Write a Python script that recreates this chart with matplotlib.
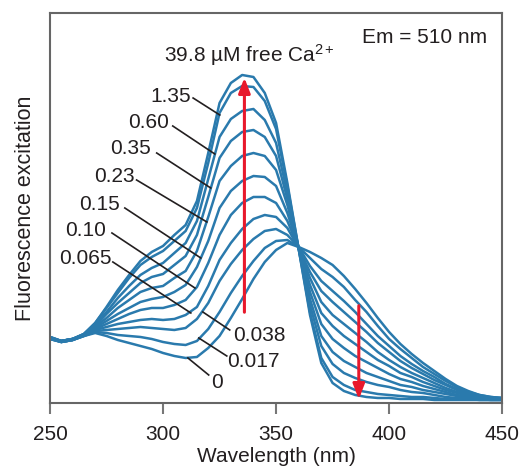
import matplotlib
matplotlib.use("Agg")
import matplotlib.pyplot as plt
import numpy as np

# wavelength grid (nm) and excitation curves (arbitrary units)
wavelength = list(range(250, 451, 5))
ca_labels = ["0", "0.017", "0.038", "0.065", "0.10", "0.15", "0.23", "0.35", "0.60", "1.35", "39.8"]

ca_0 = [64, 61, 63, 67, 70, 67, 63, 60, 57, 54, 50, 47, 45, 46, 55, 67, 85, 104, 124, 141, 153,
        160, 156, 151, 145, 138, 127, 114, 100, 85, 71, 59, 49, 40, 32, 24, 17, 12, 8, 6, 5]
ca_0017 = [64, 61, 63, 67, 71, 70, 68, 67, 66, 64, 61, 59, 58, 62, 74, 91, 110, 127, 142, 155, 162,
           163, 156, 145, 134, 126, 116, 103, 91, 77, 64, 54, 45, 36, 29, 22, 16, 11, 8, 6, 5]
ca_0038 = [64, 61, 63, 67, 72, 73, 74, 75, 76, 75, 74, 73, 75, 84, 100, 122, 139, 153, 164, 172, 174,
           168, 156, 137, 122, 112, 102, 91, 79, 67, 57, 47, 39, 32, 26, 19, 14, 10, 7, 5, 5]
ca_0065 = [65, 61, 63, 68, 73, 76, 79, 81, 83, 84, 83, 84, 88, 96, 117, 143, 160, 174, 184, 188, 186,
           175, 155, 131, 112, 101, 91, 81, 71, 60, 51, 42, 35, 29, 23, 18, 13, 9, 6, 5, 4]
ca_010 = [65, 61, 63, 68, 74, 79, 84, 89, 93, 95, 95, 98, 103, 116, 140, 168, 188, 200, 206, 206, 200,
          182, 155, 125, 101, 88, 79, 70, 61, 51, 43, 36, 30, 25, 20, 15, 11, 8, 6, 5, 4]
ca_015 = [65, 62, 64, 68, 75, 82, 89, 95, 101, 104, 106, 111, 118, 136, 162, 195, 212, 222, 227, 226, 217,
          190, 155, 118, 90, 77, 67, 59, 51, 43, 37, 30, 26, 21, 17, 13, 10, 7, 5, 4, 4]
ca_023 = [65, 62, 64, 68, 76, 85, 95, 103, 111, 115, 117, 125, 132, 152, 186, 222, 237, 247, 250, 247, 233,
          198, 155, 111, 79, 64, 55, 47, 41, 35, 29, 24, 21, 17, 14, 11, 8, 6, 5, 4, 4]
ca_035 = [65, 62, 64, 68, 77, 89, 100, 110, 120, 126, 129, 138, 147, 168, 206, 245, 262, 271, 273, 266, 247,
          204, 155, 104, 67, 51, 42, 36, 30, 26, 22, 18, 16, 13, 11, 9, 7, 5, 4, 4, 4]
ca_060 = [66, 62, 64, 69, 78, 91, 105, 117, 128, 135, 140, 150, 160, 182, 224, 266, 284, 292, 294, 283, 260,
          210, 154, 98, 57, 39, 30, 25, 21, 18, 16, 13, 11, 10, 8, 6, 5, 4, 4, 3, 3]
ca_135 = [66, 62, 64, 69, 80, 95, 110, 125, 138, 146, 152, 162, 172, 195, 240, 290, 310, 317, 316, 302, 274,
          217, 154, 91, 45, 26, 18, 13, 11, 9, 8, 7, 6, 6, 5, 4, 4, 4, 3, 3, 3]
ca_398 = [66, 62, 64, 69, 80, 96, 113, 128, 142, 151, 157, 168, 178, 202, 250, 300, 320, 328, 326, 310, 280,
          220, 154, 88, 40, 20, 12, 8, 6, 5, 5, 4, 4, 4, 3, 3, 3, 3, 3, 3, 3]

curves = [ca_0, ca_0017, ca_0038, ca_0065, ca_010, ca_015, ca_023, ca_035, ca_060, ca_135, ca_398]

# label text position and leader line (start, end), in data coords
label_pos = {
    "1.35": (303.2, 306), "0.60": (293.5, 280), "0.35": (285.8, 254), "0.23": (278.5, 226),
    "0.15": (272.1, 198), "0.10": (265.9, 172), "0.065": (265.7, 144),
    "0.038": (342.5, 67), "0.017": (339.8, 41), "0": (324.0, 20),
}
leaders = {
    "1.35": ((313.3, 305), (325.1, 288)), "0.60": ((304.3, 277), (322.9, 249)),
    "0.35": ((297.2, 250), (321.1, 215)), "0.23": ((288.3, 223), (319.4, 181)),
    "0.15": ((283.1, 195), (316.7, 145)), "0.10": ((277.4, 170), (314.1, 115)),
    "0.065": ((277.8, 141), (312.3, 90)), "0.038": ((329.5, 73), (317.6, 91)),
    "0.017": ((328.2, 47), (315.8, 65)), "0": ((320.2, 28), (311.0, 45)),
}

blue = "#2a7aad"
red = "#e8192c"
ink = "#231f20"
plt.rcParams["font.family"] = ["Liberation Sans", "DejaVu Sans"]
plt.rcParams["mathtext.fontset"] = "custom"
plt.rcParams["mathtext.rm"] = "Liberation Sans"
plt.rcParams["mathtext.it"] = "Liberation Sans"

fig = plt.figure(figsize=(5.28, 4.76), dpi=100)
ax = fig.add_axes([0.0947, 0.1534, 0.8563, 0.8193])

for c in curves:
    ax.plot(wavelength, c, color=blue, lw=1.8, solid_joinstyle="round")

# Ca arrows
ax.annotate("", xy=(336, 328), xytext=(336, 88),
            arrowprops=dict(arrowstyle="-|>,head_length=0.9,head_width=0.35", color=red, lw=2.2))
ax.annotate("", xy=(386.6, 1), xytext=(386.6, 100),
            arrowprops=dict(arrowstyle="-|>,head_length=0.9,head_width=0.35", color=red, lw=2.2))

for lab, (x, y) in label_pos.items():
    ax.text(x, y, lab, fontsize=15, ha="center", va="center", color=ink)
    (x0, y0), (x1, y1) = leaders[lab]
    ax.plot([x0, x1], [y0, y1], color=ink, lw=1.2)

ax.text(338.3, 348, r"39.8 µM free Ca$^{\mathrm{2+}}$", fontsize=15, ha="center", va="center", color=ink)
ax.text(415.8, 365, "Em = 510 nm", fontsize=15, ha="center", va="center", color=ink)

ax.set_xlim(250, 450)
ax.set_ylim(0, 390)
ax.set_xticks([250, 300, 350, 400, 450])
ax.set_yticks([])
ax.tick_params(axis="x", length=8, width=1.5, color="#777777", pad=8, labelsize=15, labelcolor=ink)
for s in ax.spines.values():
    s.set_color("#666666")
    s.set_linewidth(1.5)
ax.set_xlabel("Wavelength (nm)", fontsize=15, color=ink, labelpad=2)
ax.set_ylabel("Fluorescence excitation", fontsize=15.5, color=ink, labelpad=10)

fig.savefig("out.png", dpi=100)
